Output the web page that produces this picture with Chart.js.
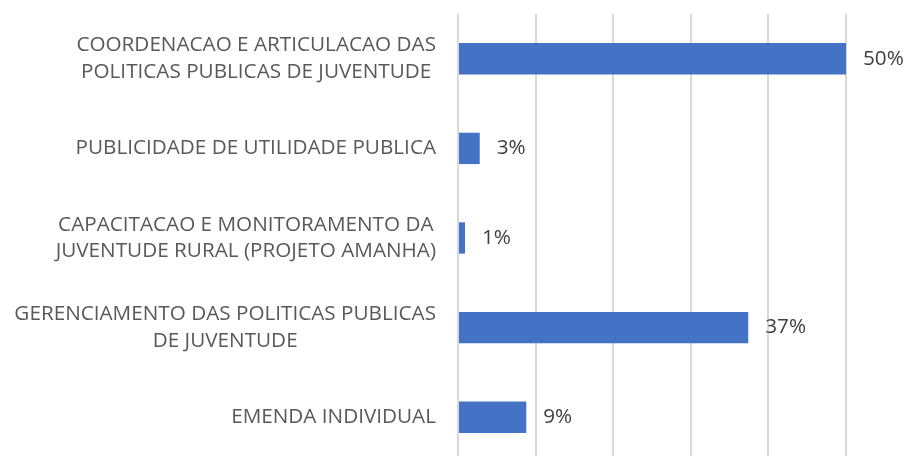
<!DOCTYPE html>
<html lang="pt">
<head>
    <meta charset="UTF-8">
    <title>Programas Juventude</title>
    <style>
        body {
            margin: 0;
            overflow: hidden;
            background: #fff;
        }
        #chartContainer {
            width: 912px;
            height: 462px;
        }
    </style>
    <script src="https://cdn.jsdelivr.net/npm/chart.js"></script>
</head>
<body>
    <div id="chartContainer">
        <canvas id="barChart"></canvas>
    </div>
    <script>
        const categories = [
            ['COORDENACAO E ARTICULACAO DAS', 'POLITICAS PUBLICAS DE JUVENTUDE'],
            ['PUBLICIDADE DE UTILIDADE PUBLICA'],
            ['CAPACITACAO E MONITORAMENTO DA', 'JUVENTUDE RURAL (PROJETO AMANHA)'],
            ['GERENCIAMENTO DAS POLITICAS PUBLICAS', 'DE JUVENTUDE'],
            ['EMENDA INDIVIDUAL']
        ];
        const shares = [0.50, 0.028, 0.009, 0.374, 0.088];

        const labelFont = '20.7px "Open Sans"';
        const lineHeight = 26.7;

        // category labels: block right-aligned, each line centred inside the block
        const categoryLabels = {
            id: 'categoryLabels',
            afterDraw(chart) {
                const ctx = chart.ctx;
                const yScale = chart.scales.y;
                const rightEdge = chart.chartArea.left - 22;
                ctx.save();
                ctx.font = labelFont;
                ctx.fillStyle = '#595959';
                ctx.textAlign = 'center';
                ctx.textBaseline = 'middle';
                categories.forEach((lines, i) => {
                    const w = Math.max(...lines.map(l => ctx.measureText(l).width));
                    const cx = rightEdge - w / 2;
                    const cy = yScale.getPixelForTick(i);
                    const startY = cy - (lines.length - 1) * lineHeight / 2;
                    lines.forEach((l, j) => ctx.fillText(l, cx, startY + j * lineHeight));
                });
                ctx.restore();
            }
        };

        // percentage labels just past the end of each bar
        const valueLabels = {
            id: 'valueLabels',
            afterDatasetsDraw(chart) {
                const ctx = chart.ctx;
                const meta = chart.getDatasetMeta(0);
                ctx.save();
                ctx.font = labelFont;
                ctx.fillStyle = '#404040';
                ctx.textAlign = 'left';
                ctx.textBaseline = 'middle';
                meta.data.forEach((bar, i) => {
                    ctx.fillText(Math.round(shares[i] * 100) + '%', bar.x + 17, bar.y);
                });
                ctx.restore();
            }
        };

        const ctx = document.getElementById('barChart').getContext('2d');
        new Chart(ctx, {
            type: 'bar',
            data: {
                labels: categories,
                datasets: [{
                    data: shares,
                    backgroundColor: '#4472c4',
                    barPercentage: 0.35,
                    categoryPercentage: 1
                }]
            },
            options: {
                indexAxis: 'y',
                responsive: true,
                maintainAspectRatio: false,
                animation: false,
                layout: {
                    padding: { left: 458, top: 14, right: 0, bottom: 0 }
                },
                plugins: {
                    legend: { display: false },
                    tooltip: { enabled: false }
                },
                scales: {
                    x: {
                        min: 0,
                        max: 0.585,
                        ticks: { display: false, stepSize: 0.1 },
                        afterBuildTicks: scale => {
                            scale.ticks = scale.ticks.filter(t => Math.abs(t.value * 10 - Math.round(t.value * 10)) < 1e-6);
                        },
                        grid: { color: '#d9d9d9', lineWidth: 2, drawTicks: false },
                        border: { display: false }
                    },
                    y: {
                        display: false
                    }
                }
            },
            plugins: [categoryLabels, valueLabels]
        });
    </script>
</body>
</html>
